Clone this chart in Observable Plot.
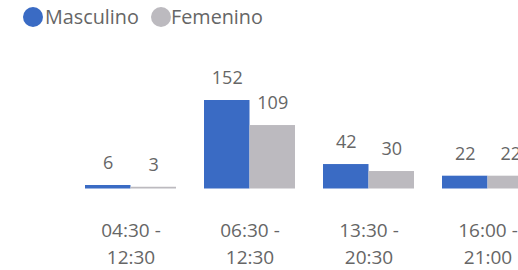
<!DOCTYPE html>
<html>
<head>
<meta charset="utf-8">
<script src="https://cdn.jsdelivr.net/npm/d3@7"></script>
<script src="https://cdn.jsdelivr.net/npm/@observablehq/plot@0.6"></script>
<style>
  html, body { margin: 0; padding: 0; background: #fff; overflow: hidden; }
  body { width: 518px; height: 270px; font-family: "Open Sans", sans-serif; }
  #legend { height: 34px; position: relative; color: #666; font-size: 19.8px; }
  .dot { position: absolute; width: 20px; height: 20px; border-radius: 50%; top: 7px; }
  .lbl { position: absolute; top: 0; white-space: nowrap; }
  #chart svg { display: block; overflow: hidden; }
</style>
</head>
<body>
<div id="legend"></div>
<div id="chart"></div>
<script>
const periods = ["04:30 -\n12:30", "06:30 -\n12:30", "13:30 -\n20:30", "16:00 -\n21:00"];
const series = ["Masculino", "Femenino"];
const masculino = [6, 152, 42, 22];
const femenino = [3, 109, 30, 22];
const colors = ["#3A6BC4", "#BCBABF"];

const data = [];
periods.forEach((p, i) => {
  data.push({period: p, sexo: "Masculino", value: masculino[i]});
  data.push({period: p, sexo: "Femenino", value: femenino[i]});
});

// legend
const legend = document.getElementById("legend");
const legendPos = [{dot: 23, text: 45}, {dot: 151, text: 171}];
series.forEach((s, i) => {
  const dot = document.createElement("span");
  dot.className = "dot";
  dot.style.left = legendPos[i].dot + "px";
  dot.style.background = colors[i];
  legend.appendChild(dot);
  const t = document.createElement("span");
  t.className = "lbl";
  t.style.left = legendPos[i].text + "px";
  t.style.lineHeight = "34px";
  t.textContent = s;
  legend.appendChild(t);
});

const half = 45.5;
const masc = data.filter(d => d.sexo === "Masculino");
const fem = data.filter(d => d.sexo === "Femenino");

const chart = Plot.plot({
  width: 518,
  height: 236,
  marginTop: 66,
  marginBottom: 81.5,
  marginLeft: 0,
  marginRight: 0,
  style: {fontFamily: "Open Sans, sans-serif", color: "#666", background: "#fff"},
  x: {domain: periods, range: [71.5, 547.5], paddingInner: 0.235, paddingOuter: 0.1175, axis: null},
  y: {domain: [0, 152], axis: null},
  marks: [
    Plot.barY(masc, {x: "period", y: "value", fill: colors[0], insetRight: half, insetLeft: 0}),
    Plot.barY(fem, {x: "period", y: "value", fill: colors[1], insetLeft: half, insetRight: 0}),
    Plot.text(masc, {x: "period", y: "value", text: d => String(d.value), dx: -half / 2, dy: -22, fontSize: 18, fill: "#666", lineAnchor: "middle"}),
    Plot.text(fem, {x: "period", y: "value", text: d => String(d.value), dx: half / 2, dy: -22, fontSize: 18, fill: "#666", lineAnchor: "middle"}),
    Plot.axisX({tickSize: 0, tickPadding: 28, fontSize: 19, lineHeight: 1.45, fill: "#666", label: null, tickFormat: d => d})
  ]
});
document.getElementById("chart").appendChild(chart);
</script>
</body>
</html>
